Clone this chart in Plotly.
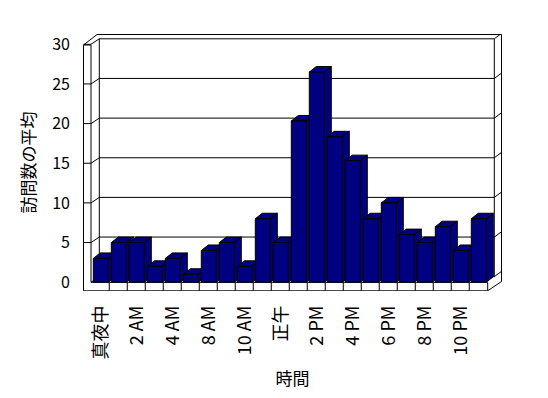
import plotly.graph_objects as go

# ---- data ----
hours = ["真夜中", "1 AM", "2 AM", "3 AM", "4 AM", "5 AM", "8 AM", "9 AM", "10 AM", "11 AM",
         "正午", "1 PM", "2 PM", "3 PM", "4 PM", "5 PM", "6 PM", "7 PM", "8 PM", "9 PM",
         "10 PM", "11 PM"]
visits = [3, 5, 5, 2, 3, 1, 4, 5, 2, 8, 5, 20.33, 26.5, 18.33, 15.33, 8, 10, 6, 5, 7, 4, 8]
y_ticks = [0, 5, 10, 15, 20, 25, 30]
x_title = "時間"
y_title = "訪問数の平均"

# ---- geometry (page pixel scale; page body has an 8px margin) ----
OFF = 8
W, H = 548 - 2 * OFF, 398 - 2 * OFF
P_L, P_R, P_T, P_B = 83, 502, 34, 291          # plot area edges on the page
ML, MR, MT, MB = P_L - OFF, W - (P_R - OFF), P_T - OFF, H - (P_B - OFF)
PX_X = 18.0      # px per category
PX_Y = 7.93      # px per value unit
X0_PX = 100.8    # page px of category 0 centre
Y0_PX = 282.2    # page px of value 0 (front)

def X(px):
    return (px - X0_PX) / PX_X

def Y(py):
    return (Y0_PX - py) / PX_Y

xr = [X(P_L), X(P_R)]
yr = [Y(P_B), Y(P_T)]

NAVY = "#000080"
BW = 15.0 / PX_X          # bar front width
DX = 7.0 / PX_X           # bar depth (x)
DY = 5.5 / PX_Y           # bar depth (y)

fig = go.Figure()

# side + top faces, one trace per bar (drawn left to right)
n = len(visits)
for i, v in enumerate(visits):
    xl, xrt = i - BW / 2, i + BW / 2
    xs = [xrt, xrt, xrt + DX, xrt + DX, xrt, None,
          xl, xrt, xrt + DX, xl + DX, xl]
    ys = [0, v, v + DY, DY, 0, None,
          v, v, v + DY, v + DY, v]
    fig.add_trace(go.Scatter(x=xs, y=ys, mode="lines", fill="toself",
                             fillcolor=NAVY, line=dict(color="black", width=1),
                             hoverinfo="skip", showlegend=False,
                             xaxis="x", yaxis="y"))

# front faces as bars on an overlaid axis pair (drawn above the sides)
fig.add_trace(go.Bar(x=list(range(n)), y=visits, width=BW,
                     marker=dict(color=NAVY, line=dict(color="black", width=1)),
                     hovertext=hours, showlegend=False, xaxis="x2", yaxis="y2"))

# ---- frame: walls, floor, gridlines ----
shapes = []

def seg(x0p, y0p, x1p, y1p):
    shapes.append(dict(type="line", xref="x", yref="y", layer="below",
                       x0=X(x0p), y0=Y(y0p), x1=X(x1p), y1=Y(y1p),
                       line=dict(color="black", width=1)))

LW_OUT, LW_IN, BACK_L, BACK_R, BACK_R_OUT = 83.5, 91.0, 99.3, 494.3, 501.5
TOP_OUT, LEFT_TOP = 34.5, 45.0
FLOOR_TOP, FLOOR_BOT, FLOOR_R = 282.3, 290.8, 487.7
BACK_DY = 5.5

# left wall
seg(LW_OUT, LEFT_TOP, LW_OUT, FLOOR_BOT)
seg(LW_IN, LEFT_TOP, LW_IN, FLOOR_TOP)
seg(LW_OUT, LEFT_TOP, LW_IN, LEFT_TOP)
seg(LW_OUT, LEFT_TOP, 97.0, TOP_OUT)
# back wall outline
seg(97.0, TOP_OUT, BACK_R_OUT, TOP_OUT)
seg(BACK_L, Y0_PX - 30 * PX_Y - BACK_DY, BACK_L, Y0_PX - BACK_DY)
seg(BACK_R, Y0_PX - 30 * PX_Y - BACK_DY, BACK_R, Y0_PX - BACK_DY)
seg(BACK_R_OUT, TOP_OUT, BACK_R_OUT, FLOOR_BOT - 9.3)
# gridlines
for v in y_ticks:
    yf = Y0_PX - v * PX_Y
    yb = yf - BACK_DY
    if v > 0:
        seg(LW_OUT, yf, LW_IN, yf)
    seg(LW_IN, yf, BACK_L, yb)
    seg(BACK_L, yb, BACK_R, yb)
    seg(BACK_R, yb, BACK_R_OUT, yb - 5.3)
# floor
seg(LW_IN, FLOOR_TOP, FLOOR_R, FLOOR_TOP)
seg(LW_OUT, FLOOR_BOT, FLOOR_R, FLOOR_BOT)
seg(FLOOR_R, FLOOR_TOP, FLOOR_R, FLOOR_BOT)
seg(FLOOR_R, FLOOR_BOT, BACK_R_OUT, FLOOR_BOT - 9.3)
for k in range(1, n):
    xp = X0_PX + (k - 0.53) * PX_X
    seg(xp, FLOOR_TOP, xp, FLOOR_BOT)

FONT = "Noto Sans CJK JP"
fig.update_layout(
    width=W, height=H,
    margin=dict(l=ML, r=MR, t=MT, b=MB, autoexpand=False),
    paper_bgcolor="white", plot_bgcolor="rgba(0,0,0,0)",
    font=dict(family=FONT, size=16, color="black"),
    shapes=shapes,
    showlegend=False,
    xaxis=dict(range=xr, tickmode="array", tickvals=list(range(0, n, 2)),
               ticktext=hours[::2], tickangle=-90, ticks="", showgrid=False,
               zeroline=False, showline=False, ticklabelstandoff=10,
               tickfont=dict(size=18),
               title=dict(text=x_title, standoff=14, font=dict(size=17)),
               fixedrange=True, automargin=False),
    yaxis=dict(range=yr, tickmode="array", tickvals=y_ticks, ticks="",
               showgrid=False, zeroline=False, showline=False, ticklabelstandoff=12,
               title=dict(text=y_title, standoff=12, font=dict(size=17)),
               fixedrange=True, automargin=False),
    xaxis2=dict(range=xr, overlaying="x", anchor="y2", visible=False, fixedrange=True),
    yaxis2=dict(range=yr, overlaying="y", anchor="x2", visible=False, fixedrange=True),
)

fig.write_html("out.html")
